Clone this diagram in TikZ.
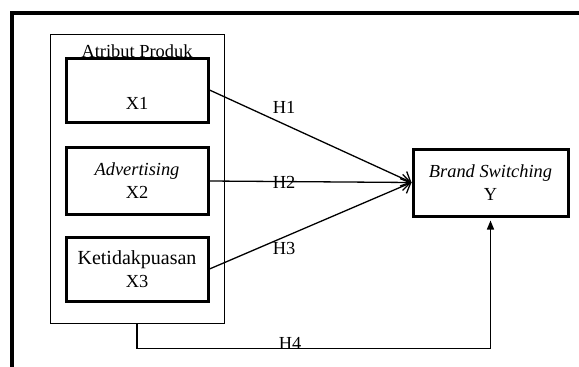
\documentclass[tikz,border=0pt]{standalone}
\usepackage{fontspec}
\setmainfont{Liberation Serif}
\usetikzlibrary{arrows.meta}
\begin{document}
\begin{tikzpicture}[x=1pt,y=-1pt,
  every node/.style={font=\fontsize{18.4}{23}\selectfont},
  varbox/.style={draw,line width=3pt,minimum width=142pt,align=center,inner sep=0pt},
  path/.style={line width=1.3pt,-{Straight Barb[length=8pt,width=16pt,line width=1.3pt]}}]
\useasboundingbox (0,0) rectangle (579,367);
\draw[line width=4.5pt] (12,367)--(12,13)--(579,13);
\node[draw,line width=1pt,minimum width=174pt,minimum height=289pt] (grp) at (137,178.5) {};
\node at (137,51) (grplabel) {Atribut Produk};
\node[varbox,minimum height=64pt] (x1) at (137,90) {\strut\\X1};
\node[varbox,minimum height=67pt] (x2) at (137,181) {\textit{Advertising}\\X2};
\node[varbox,minimum height=64pt] (x3) at (137,269) {{\fontsize{20}{23}\selectfont Ketidakpuasan}\\X3};
\node[varbox,minimum width=155pt,minimum height=67pt] (y) at (490.5,182.5) {\textit{Brand Switching}\\Y};
\draw[path] (x1.east)--(y.west);
\draw[path] (x2.east)--(y.west);
\draw[path] (x3.east)--(y.west);
\draw[line width=1.3pt,-{Triangle[length=9pt,width=7pt]},shorten >=3pt] (grp.south)--++(0,25)-|(y.south);
\node at (284,107) (h1) {H1};
\node at (284,182) (h2) {H2};
\node at (284,248) (h3) {H3};
\node at (290,343) (h4) {H4};
\end{tikzpicture}
\end{document}
